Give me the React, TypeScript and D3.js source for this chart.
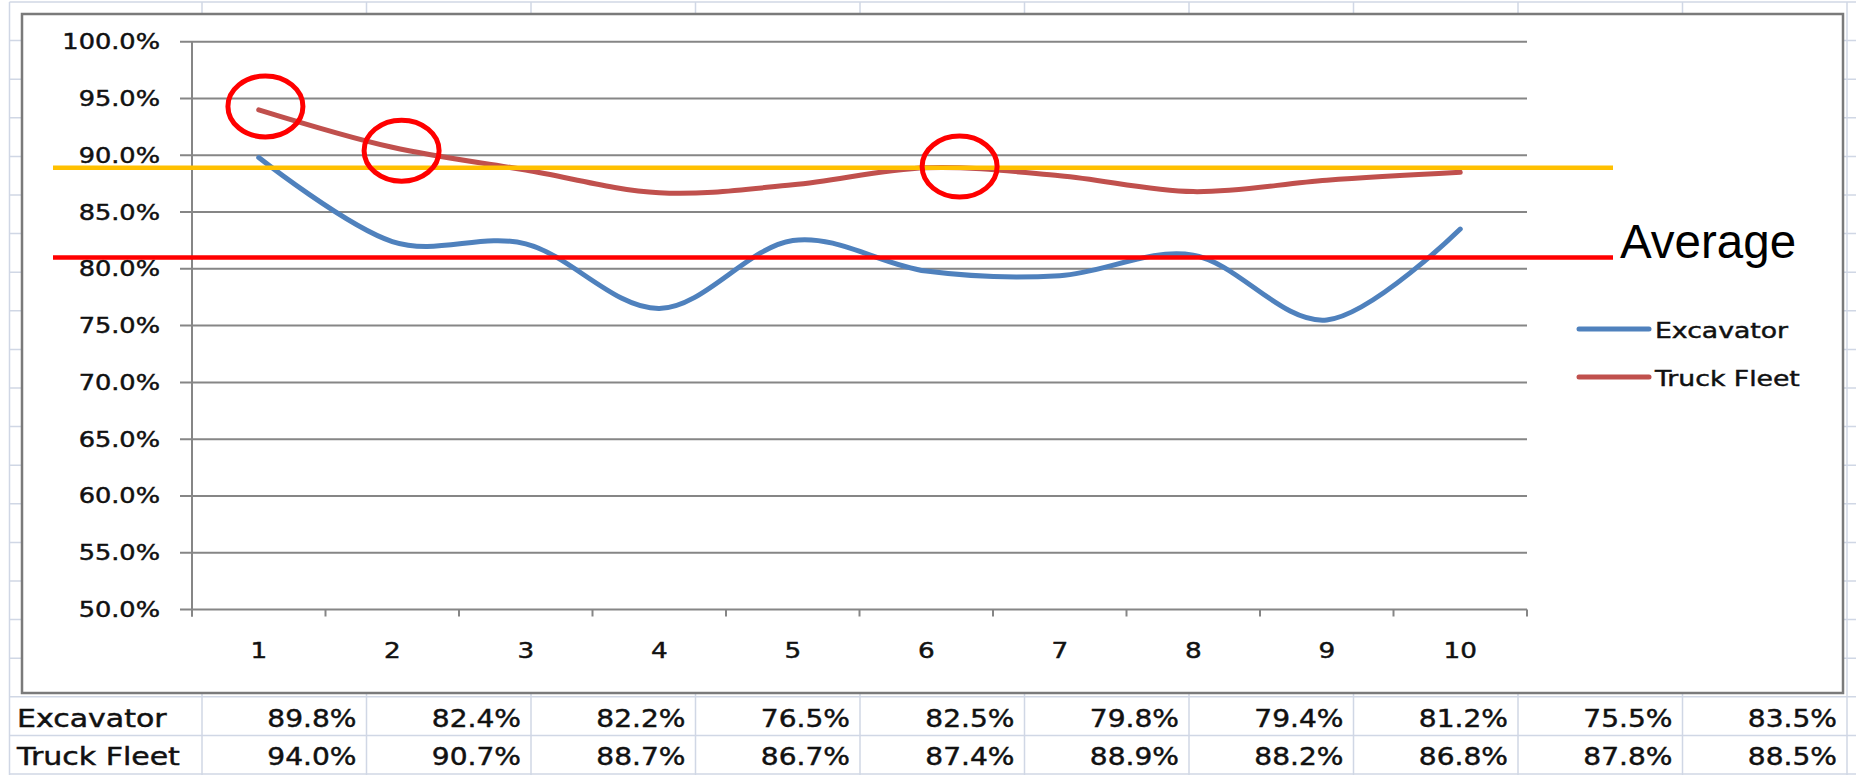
import * as d3 from 'd3';
import React, { useEffect, useRef } from 'react';

// chart values
const categories = ['1', '2', '3', '4', '5', '6', '7', '8', '9', '10'];
const excavator = [89.8, 82.4, 82.2, 76.5, 82.5, 79.8, 79.4, 81.2, 75.5, 83.5];
const truckFleet = [94.0, 90.7, 88.7, 86.7, 87.4, 88.9, 88.2, 86.8, 87.8, 88.5];
const seriesNames = ['Excavator', 'Truck Fleet'];
const yTicks = [50, 55, 60, 65, 70, 75, 80, 85, 90, 95, 100];

// hand drawn overlays (percent units)
const truckAvgLine = 88.9;
const excavatorAvgLine = 81.0;
const avgLabel = 'Average';
// red circles: x in category units, y in percent
const circleMarks = [
    { x: 1.05, y: 94.3 },
    { x: 2.07, y: 90.4 },
    { x: 6.25, y: 89.0 },
];

const W = 1856;
const H = 775;
const FONT = '"DejaVu Sans", Verdana, sans-serif';

function App() {
    const ref = useRef<SVGSVGElement>(null);

    useEffect(() => {
        const svg = d3.select(ref.current);
        svg.selectAll('*').remove();

        const plot = { left: 192, right: 1527, top: 41.7, bottom: 609.5 };
        const frame = { x: 22, y: 14, w: 1821, h: 679 };

        const x = d3.scaleLinear()
            .domain([0.5, categories.length + 0.5])
            .range([plot.left, plot.right]);
        const y = d3.scaleLinear()
            .domain([50, 100])
            .range([plot.bottom, plot.top]);

        svg.append('rect').attr('width', W).attr('height', H).attr('fill', '#fff');

        // spreadsheet grid behind the chart
        const gridColor = '#d0d7e5';
        const colX = [9.5, ...d3.range(11).map(i => 202 + i * 164.5)];
        const rowY = d3.range(21).map(i => 2 + i * 38.6);
        const sheet = svg.append('g');
        sheet.selectAll('.col').data(colX).join('line')
            .attr('x1', d => d).attr('x2', d => d)
            .attr('y1', 2).attr('y2', H)
            .attr('stroke', gridColor).attr('stroke-width', 1.5);
        sheet.selectAll('.row').data(rowY).join('line')
            .attr('x1', 9.5).attr('x2', W)
            .attr('y1', d => d).attr('y2', d => d)
            .attr('stroke', gridColor).attr('stroke-width', 1.5);

        // chart frame
        svg.append('rect')
            .attr('x', frame.x).attr('y', frame.y)
            .attr('width', frame.w).attr('height', frame.h)
            .attr('fill', '#fff')
            .attr('stroke', '#7a7a7a').attr('stroke-width', 2.5);

        // screenshot is stretched sideways, so the labels are too
        const stretched = (g, tx, ty, sx, txt, size, anchor) =>
            g.append('text')
                .attr('transform', `translate(${tx},${ty}) scale(${sx},1)`)
                .attr('text-anchor', anchor)
                .attr('font-family', FONT)
                .attr('font-size', size)
                .attr('fill', '#111')
                .attr('stroke', '#111')
                .attr('stroke-width', 0.45)
                .text(txt);

        const axisColor = '#868686';
        const g = svg.append('g');

        // gridlines + y ticks
        g.selectAll('.grid').data(yTicks).join('line')
            .attr('x1', plot.left - 12).attr('x2', plot.right)
            .attr('y1', d => y(d)).attr('y2', d => y(d))
            .attr('stroke', axisColor).attr('stroke-width', 2);
        yTicks.forEach(t => {
            stretched(g, 160, y(t) + 7.5, 1.25, d3.format('.1%')(t / 100), 20.5, 'end');
        });

        // y axis line
        g.append('line')
            .attr('x1', plot.left).attr('x2', plot.left)
            .attr('y1', plot.top).attr('y2', plot.bottom + 7)
            .attr('stroke', axisColor).attr('stroke-width', 2);

        // x ticks at category boundaries
        const bounds = d3.range(categories.length + 1).map(i => i + 0.5);
        g.selectAll('.xtick').data(bounds).join('line')
            .attr('x1', d => x(d)).attr('x2', d => x(d))
            .attr('y1', plot.bottom).attr('y2', plot.bottom + 7)
            .attr('stroke', axisColor).attr('stroke-width', 2);
        categories.forEach((c, i) => {
            stretched(g, x(i + 1), 658, 1.25, c, 21, 'middle');
        });

        // series
        const line = d3.line<number>()
            .x((d, i) => x(i + 1))
            .y(d => y(d))
            .curve(d3.curveCardinal.tension(0));
        const series = [
            { name: seriesNames[0], values: excavator, color: '#4f81bd' },
            { name: seriesNames[1], values: truckFleet, color: '#c0504d' },
        ];
        series.forEach(s => {
            g.append('path')
                .attr('d', line(s.values))
                .attr('fill', 'none')
                .attr('stroke', s.color)
                .attr('stroke-width', 5)
                .attr('stroke-linecap', 'round');
        });

        // legend
        series.forEach((s, i) => {
            const ly = 329 + i * 48;
            g.append('line')
                .attr('x1', 1579).attr('x2', 1649)
                .attr('y1', ly).attr('y2', ly)
                .attr('stroke', s.color).attr('stroke-width', 5)
                .attr('stroke-linecap', 'round');
            stretched(g, 1655, ly + 8.5, 1.27, s.name, 21, 'start');
        });

        // average lines
        const avgG = svg.append('g');
        [{ v: truckAvgLine, c: '#ffc000' }, { v: excavatorAvgLine, c: '#ff0000' }].forEach(a => {
            avgG.append('line')
                .attr('x1', 53).attr('x2', 1613)
                .attr('y1', y(a.v)).attr('y2', y(a.v))
                .attr('stroke', a.c).attr('stroke-width', 4.5);
        });
        avgG.append('text')
            .attr('x', 1620).attr('y', y(excavatorAvgLine) + 0.5)
            .attr('font-family', '"Liberation Sans", Arial, sans-serif')
            .attr('font-size', 47.5)
            .attr('fill', '#000')
            .text(avgLabel);

        // circles
        avgG.selectAll('.mark').data(circleMarks).join('ellipse')
            .attr('cx', d => x(d.x)).attr('cy', d => y(d.y))
            .attr('rx', 37.5).attr('ry', 30.5)
            .attr('fill', 'none')
            .attr('stroke', '#ff0000').attr('stroke-width', 5);

        // data table under the chart
        const tbl = svg.append('g');
        const rowBase = [726.7, 765];
        series.forEach((s, r) => {
            stretched(tbl, 17, rowBase[r], 1.25, s.name, 24, 'start');
            s.values.forEach((v, i) => {
                stretched(tbl, colX[i + 2] - 10, rowBase[r], 1.17, d3.format('.1%')(v / 100), 24, 'end');
            });
        });
    }, []);

    return (
        <svg
            ref={ref}
            width={W}
            height={H}
            style={{ position: 'absolute', left: 0, top: 0, display: 'block' }}
        />
    );
}

export default App;
